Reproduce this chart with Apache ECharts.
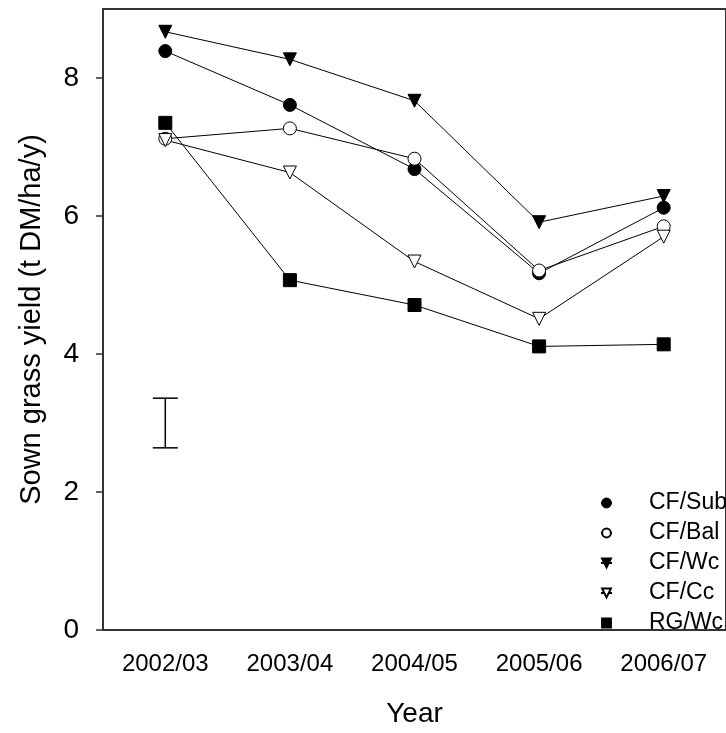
<!DOCTYPE html>
<html>
<head>
<meta charset="utf-8">
<script src="https://cdn.jsdelivr.net/npm/echarts@6/dist/echarts.min.js"></script>
<style>
  html, body { margin: 0; padding: 0; background: #fff; }
  #chart { width: 726px; height: 733px; }
</style>
</head>
<body>
<div id="chart"></div>
<script>
// Growing seasons on the x axis
const years = ['2002/03', '2003/04', '2004/05', '2005/06', '2006/07'];

// Sown grass yield (t DM/ha/y) per treatment
const cfSub = [8.39, 7.61, 6.68, 5.17, 6.12];
const cfBal = [7.12, 7.27, 6.83, 5.21, 5.85];
const cfWc  = [8.67, 8.27, 7.67, 5.91, 6.29];
const cfCc  = [7.10, 6.63, 5.34, 4.51, 5.70];
const rgWc  = [7.35, 5.07, 4.71, 4.11, 4.14];

// LSD bar drawn at the first season: [category index, low, high]
const lsdBar = [[0, 2.64, 3.36]];

// Y ticks
const yTicks = [0, 2, 4, 6, 8];

const FONT = '"Liberation Sans", Arial, sans-serif';

function lineSeries(name, values, symbol, filled, rotate) {
  return {
    name: name,
    type: 'line',
    data: values,
    symbol: symbol,
    symbolSize: 13,
    symbolRotate: rotate || 0,
    showAllSymbol: true,
    lineStyle: { color: '#000', width: 1 },
    itemStyle: filled
      ? { color: '#000', borderColor: '#000', borderWidth: 1 }
      : { color: '#fff', borderColor: '#000', borderWidth: 1 },
    emphasis: { disabled: true },
    z: 3
  };
}

const chart = echarts.init(document.getElementById('chart'), null, { renderer: 'canvas' });

chart.setOption({
  animation: false,
  backgroundColor: '#fff',
  grid: {
    left: 103, top: 9, width: 627.5, height: 626,
    show: true, borderColor: '#333', borderWidth: 2, backgroundColor: 'transparent'
  },
  legend: {
    orient: 'vertical',
    left: 595, top: 483,
    itemWidth: 11, itemHeight: 11,
    itemGap: 0,
    selectedMode: false,
    textStyle: { fontFamily: FONT, fontSize: 23, color: '#000', lineHeight: 30, padding: [0, 0, 0, 32] },
    data: ['CF/Sub', 'CF/Bal', 'CF/Wc', 'CF/Cc', 'RG/Wc']
  },
  xAxis: {
    type: 'category',
    data: years,
    boundaryGap: true,
    name: 'Year',
    nameLocation: 'middle',
    nameGap: 70,
    nameTextStyle: { fontFamily: FONT, fontSize: 28, color: '#000' },
    axisLine: { lineStyle: { color: '#333', width: 2 } },
    axisTick: { alignWithLabel: true, length: 11, lineStyle: { color: '#333', width: 1.5 } },
    axisLabel: { fontFamily: FONT, fontSize: 24, color: '#000', margin: 22 },
    splitLine: { show: false }
  },
  yAxis: {
    type: 'value',
    min: 0, max: 9, interval: 2,
    name: 'Sown grass yield (t DM/ha/y)',
    nameLocation: 'middle',
    nameGap: 57,
    nameTextStyle: { fontFamily: FONT, fontSize: 29, color: '#000' },
    axisLine: { show: true, lineStyle: { color: '#333', width: 2 } },
    axisTick: { show: true, length: 7, customValues: yTicks, lineStyle: { color: '#333', width: 1.5 } },
    axisLabel: { fontFamily: FONT, fontSize: 28, color: '#000', margin: 24, customValues: yTicks },
    splitLine: { show: false }
  },
  series: [
    lineSeries('CF/Sub', cfSub, 'circle', true),
    lineSeries('CF/Bal', cfBal, 'circle', false),
    lineSeries('CF/Wc', cfWc, 'triangle', true, 180),
    lineSeries('CF/Cc', cfCc, 'triangle', false, 180),
    lineSeries('RG/Wc', rgWc, 'rect', true),
    {
      type: 'custom',
      name: 'LSD',
      data: lsdBar,
      encode: { x: 0, y: [1, 2] },
      silent: true,
      renderItem: function (params, api) {
        const lo = api.coord([api.value(0), api.value(1)]);
        const hi = api.coord([api.value(0), api.value(2)]);
        const half = 12.5;
        const style = { stroke: '#000', lineWidth: 1.5 };
        return {
          type: 'group',
          children: [
            { type: 'line', shape: { x1: lo[0], y1: lo[1], x2: hi[0], y2: hi[1] }, style: style },
            { type: 'line', shape: { x1: lo[0] - half, y1: lo[1], x2: lo[0] + half, y2: lo[1] }, style: style },
            { type: 'line', shape: { x1: hi[0] - half, y1: hi[1], x2: hi[0] + half, y2: hi[1] }, style: style }
          ]
        };
      }
    }
  ]
});
</script>
</body>
</html>
